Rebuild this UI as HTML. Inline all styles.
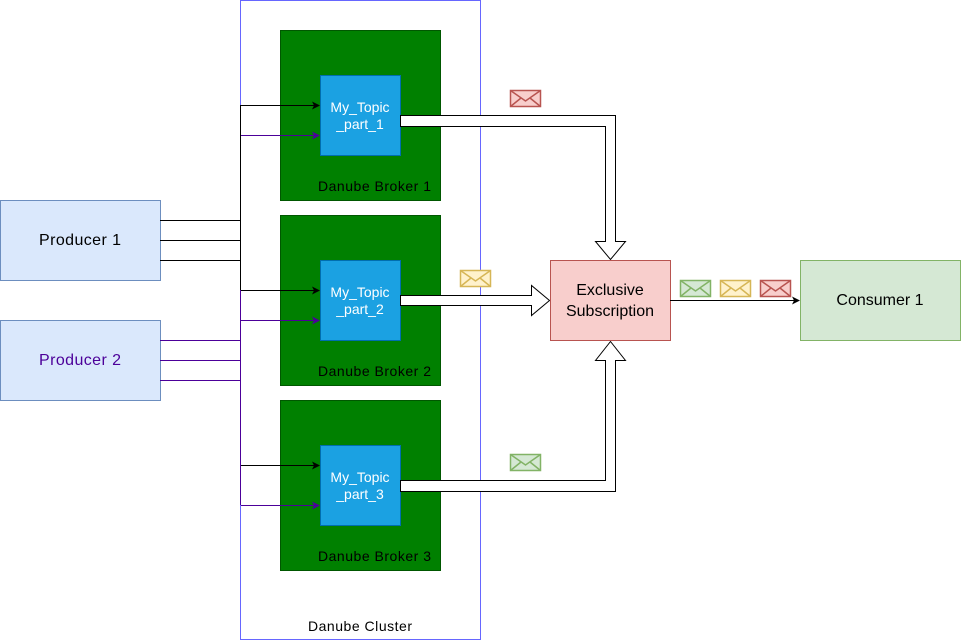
<!DOCTYPE html>
<html><head><style>body{margin:0;background:#fff}svg{display:block}text{font-family:"Liberation Sans",sans-serif}</style></head><body>
<svg width="961" height="641" viewBox="0 0 961 641" xmlns="http://www.w3.org/2000/svg">
<defs>
<marker id="ab" markerWidth="8" markerHeight="8" refX="7" refY="4" orient="auto" markerUnits="userSpaceOnUse"><path d="M0,0 L8,4 L0,8 L2,4z" fill="#000"/></marker>
<marker id="ap" markerWidth="8" markerHeight="8" refX="7" refY="4" orient="auto" markerUnits="userSpaceOnUse"><path d="M0,0 L8,4 L0,8 L2,4z" fill="#4c0099"/></marker>
<g id="env"><rect x="0.5" y="0.5" width="30" height="16" stroke-width="1.5"/><path d="M0.5,0.5 L15.5,11 L30.5,0.5 M0.5,16.5 L11,8 M30.5,16.5 L20,8" fill="none" stroke-width="1.5"/></g>
</defs>
<rect x="240.5" y="0.5" width="240" height="639" fill="none" stroke="#6666ff"/>
<text x="360" y="631" font-size="14" text-anchor="middle" textLength="104">Danube Cluster</text>
<g fill="#008000" stroke="#005700">
<rect x="280.5" y="30.5" width="160" height="170"/>
<rect x="280.5" y="215.5" width="160" height="170"/>
<rect x="280.5" y="400.5" width="160" height="170"/>
</g>
<g font-size="14" fill="#000">
<text x="318" y="191" textLength="113">Danube Broker 1</text>
<text x="318" y="376" textLength="113">Danube Broker 2</text>
<text x="318" y="561" textLength="113">Danube Broker 3</text>
</g>
<g fill="#1ba1e2" stroke="#006eaf">
<rect x="320.5" y="75.5" width="80" height="80"/>
<rect x="320.5" y="260.5" width="80" height="80"/>
<rect x="320.5" y="445.5" width="80" height="80"/>
</g>
<g font-size="14" text-anchor="middle" fill="#fff">
<text x="360" y="112">My_Topic</text><text x="360" y="129">_part_1</text>
<text x="360" y="297">My_Topic</text><text x="360" y="314">_part_2</text>
<text x="360" y="482">My_Topic</text><text x="360" y="499">_part_3</text>
</g>
<rect x="0.5" y="200.5" width="160" height="80" fill="#dae8fc" stroke="#6c8ebf"/>
<rect x="0.5" y="320.5" width="160" height="80" fill="#dae8fc" stroke="#6c8ebf"/>
<text x="39" y="245" font-size="16" textLength="82">Producer 1</text>
<text x="39" y="365" font-size="16" fill="#4c0099" textLength="82">Producer 2</text>
<g stroke="#000" fill="none">
<path d="M160,220.5H240.5M160,240.5H240.5M160,260.5H240.5"/>
<path d="M240.5,105V505"/>
<path d="M240,105.5H319" marker-end="url(#ab)"/>
<path d="M240,290.5H319" marker-end="url(#ab)"/>
<path d="M240,465.5H319" marker-end="url(#ab)"/>
</g>
<g stroke="#4c0099" fill="none">
<path d="M160,340.5H240.5M160,360.5H240.5M160,380.5H240.5"/>
<path d="M240.5,290V505"/>
<path d="M241,135.5H319" marker-end="url(#ap)"/>
<path d="M241,320.5H319" marker-end="url(#ap)"/>
<path d="M241,505.5H319" marker-end="url(#ap)"/>
</g>
<g fill="#fff" stroke="#000" stroke-width="1">
<path d="M400.5,115.5H615.5V241.5H625.5L610.5,259.5L595.5,241.5H605.5V126.5H400.5Z"/>
<path d="M400.5,295.5H531.5V285.5L549.5,300.5L531.5,315.5V305.5H400.5Z"/>
<path d="M400.5,491.5H615.5V360.5H625.5L610.5,341.5L595.5,360.5H605.5V480.5H400.5Z"/>
</g>
<rect x="550.5" y="260.5" width="120" height="80" fill="#f8cecc" stroke="#b85450"/>
<text x="610" y="295" font-size="16" text-anchor="middle">Exclusive</text>
<text x="610" y="316" font-size="16" text-anchor="middle">Subscription</text>
<rect x="800.5" y="260.5" width="160" height="80" fill="#d5e8d4" stroke="#82b366"/>
<text x="880" y="305" font-size="16" text-anchor="middle">Consumer 1</text>
<path d="M670,300.5H799" stroke="#000" marker-end="url(#ab)"/>
<use href="#env" x="510" y="90" fill="#f8cecc" stroke="#b85450"/>
<use href="#env" x="460" y="270" fill="#fff2cc" stroke="#d6b656"/>
<use href="#env" x="510" y="454" fill="#d5e8d4" stroke="#82b366"/>
<use href="#env" x="680" y="280" fill="#d5e8d4" stroke="#82b366"/>
<use href="#env" x="720" y="280" fill="#fff2cc" stroke="#d6b656"/>
<use href="#env" x="760" y="280" fill="#f8cecc" stroke="#b85450"/>
</svg>
</body></html>
